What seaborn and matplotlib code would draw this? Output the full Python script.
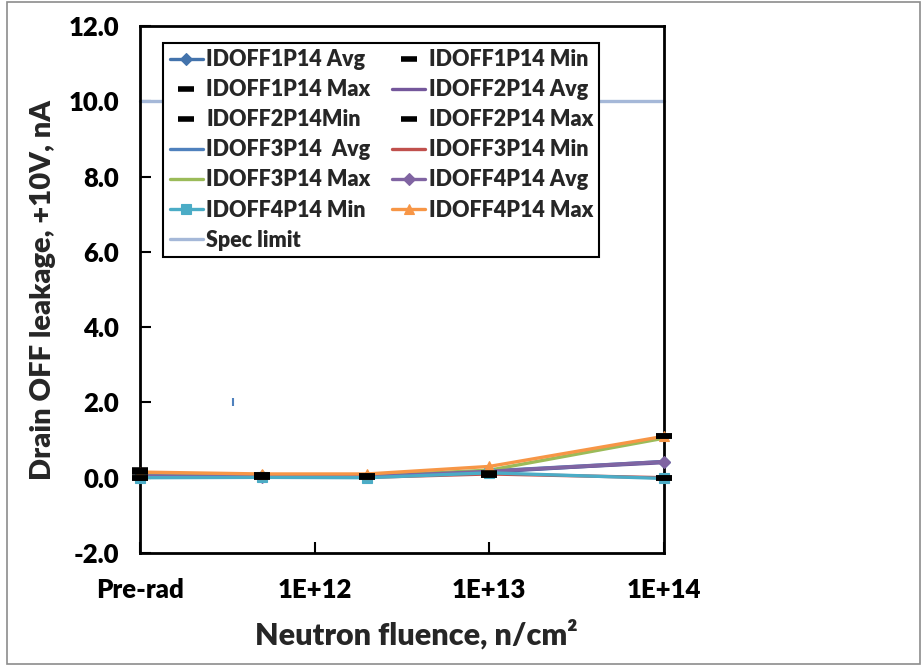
import matplotlib
matplotlib.use("Agg")
import matplotlib.pyplot as plt
import numpy as np
import pandas as pd
import seaborn as sns
from matplotlib.patches import Rectangle

# Data
fluence = [1e11, 5e11, 2e12, 1e13, 1e14]   # pre-rad drawn at 1E+11
tick_pos = [1e11, 1e12, 1e13, 1e14]
tick_labels = ["Pre-rad", "1E+12", "1E+13", "1E+14"]

idoff1_avg = [0.05, 0.04, 0.03, 0.15, 0.42]
idoff1_min = [0.00, 0.02, 0.01, 0.08, 0.00]
idoff1_max = [0.20, 0.08, 0.05, 0.10, 1.10]
idoff2_avg = [0.05, 0.03, 0.03, 0.17, 0.40]
idoff2_min = [0.00, 0.01, 0.01, 0.07, 0.00]
idoff2_max = [0.15, 0.07, 0.05, 0.12, 1.10]
idoff3_avg = [0.05, 0.04, 0.03, 0.18, 0.43]
idoff3_min = [0.02, 0.01, 0.01, 0.10, 0.00]
idoff3_max = [0.12, 0.06, 0.05, 0.20, 1.05]
idoff4_avg = [0.05, 0.03, 0.03, 0.17, 0.43]
idoff4_min = [0.00, 0.01, 0.00, 0.13, -0.02]
idoff4_max = [0.15, 0.10, 0.10, 0.30, 1.10]
spec_limit = [10.0, 10.0, 10.0, 10.0, 10.0]

# stray point visible in the original
stray_x = [3.4e11]
stray_y = [2.0]

sns.set_theme(style="white")
plt.rcParams["font.family"] = ["Lato", "DejaVu Sans"]
plt.rcParams["font.weight"] = "heavy"

fig = plt.figure(figsize=(9.24, 6.65), dpi=100)
ax = fig.add_axes([140 / 924, 1 - 553 / 665, 524 / 924, 527 / 665])

# (label, values, color, marker, linestyle, markersize, zorder)
series = [
    ("IDOFF1P14 Avg", idoff1_avg, "#4373AC", "D", "-", 6, 2),
    ("IDOFF1P14 Min", idoff1_min, "black", "_", "none", 11, 5),
    ("IDOFF1P14 Max", idoff1_max, "black", "_", "none", 11, 5),
    ("IDOFF2P14 Avg", idoff2_avg, "#74579B", None, "-", 0, 2),
    ("IDOFF2P14Min", idoff2_min, "black", "_", "none", 11, 5),
    ("IDOFF2P14 Max", idoff2_max, "black", "_", "none", 11, 5),
    ("IDOFF3P14  Avg", idoff3_avg, "#4F81BD", None, "-", 0, 2),
    ("IDOFF3P14 Min", idoff3_min, "#C0504D", None, "-", 0, 2),
    ("IDOFF3P14 Max", idoff3_max, "#9BBB59", None, "-", 0, 2),
    ("IDOFF4P14 Avg", idoff4_avg, "#8064A2", "D", "-", 6, 3),
    ("IDOFF4P14 Min", idoff4_min, "#4BACC6", "s", "-", 6.5, 3),
    ("IDOFF4P14 Max", idoff4_max, "#F79646", "^", "-", 7, 4),
    ("Spec limit", spec_limit, "#A5B8D8", None, "-", 0, 2),
]

for label, vals, color, marker, ls, ms, z in series:
    df = pd.DataFrame({"x": fluence, "y": vals})
    sns.lineplot(data=df, x="x", y="y", ax=ax, color=color, marker=marker,
                 linestyle=ls, linewidth=2.4, markersize=ms,
                 markeredgewidth=4 if marker == "_" else 0.8,
                 markeredgecolor=color, label=label, zorder=z, clip_on=False)

sns.scatterplot(x=stray_x, y=stray_y, ax=ax, marker="|", s=30,
                color="#4F81BD", linewidth=1.5, legend=False)

ax.set_xscale("log")
ax.set_xlim(1e11, 1e14)
ax.set_ylim(-2, 12)
ax.set_xticks(tick_pos)
ax.set_xticklabels(tick_labels)
ax.xaxis.set_minor_locator(matplotlib.ticker.NullLocator())
ax.set_yticks(np.arange(-2, 12.1, 2))
ax.set_yticklabels([f"{v:.1f}" for v in np.arange(-2, 12.1, 2)])

ax.tick_params(axis="both", direction="in", length=8, width=1.5,
               labelsize=18.5, colors="black")
ax.tick_params(axis="y", left=True, pad=15)
ax.tick_params(axis="x", bottom=True, pad=18)
for lab in ax.get_xticklabels() + ax.get_yticklabels():
    lab.set_fontweight("heavy")
for sp in ax.spines.values():
    sp.set_color("black")
    sp.set_linewidth(2)

ax.set_xlabel("Neutron fluence, n/cm²", fontsize=22, fontweight="heavy")
ax.xaxis.set_label_coords(0.527, -0.125)
ax.set_ylabel("Drain OFF leakage, +10V, nA", fontsize=21, fontweight="heavy")
ax.yaxis.set_label_coords(-0.16, 0.5)

# legend, filled row by row as in the original
handles, labels = ax.get_legend_handles_labels()
order = list(range(0, 13, 2)) + list(range(1, 13, 2))
leg = ax.legend([handles[i] for i in order], [labels[i] for i in order],
                ncol=2, loc="upper left", bbox_to_anchor=(0.044, 0.968),
                borderaxespad=0, frameon=True, fancybox=False,
                prop={"weight": "heavy", "size": 15.5},
                labelspacing=0.42, handlelength=1.55, handletextpad=0.15,
                columnspacing=1.0, borderpad=0.3)
leg.get_frame().set_edgecolor("black")
leg.get_frame().set_linewidth(1.5)
leg.get_frame().set_alpha(1)
leg.set_zorder(10)

# grey outer frame of the chart area
fig.patches.append(Rectangle((7 / 924, 1 / 665), 913 / 924, 662 / 665,
                             transform=fig.transFigure, fill=False,
                             edgecolor="#8C8C8C", linewidth=1.2))

fig.savefig("out.png", dpi=100)
